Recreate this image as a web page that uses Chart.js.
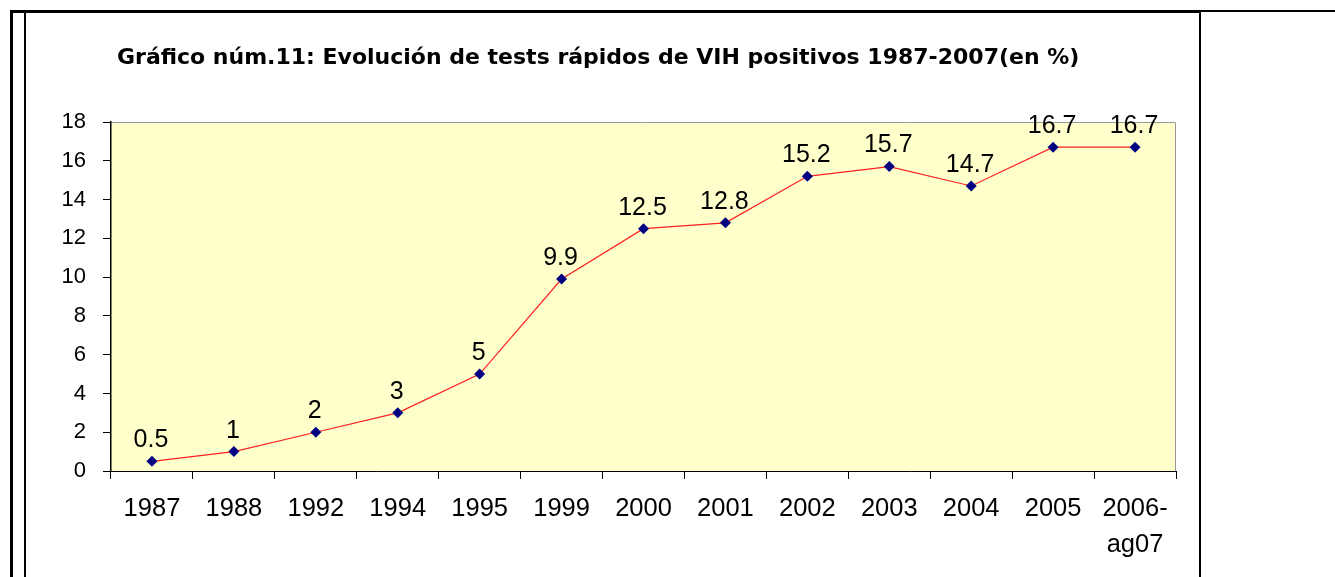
<!DOCTYPE html>
<html>
<head>
<meta charset="utf-8">
<script src="https://cdn.jsdelivr.net/npm/chart.js@4"></script>
<style>
  html, body { margin: 0; padding: 0; background: #fff; }
  #wrap { position: relative; width: 1335px; height: 577px; overflow: hidden; }
  #chart { position: absolute; left: 0; top: 0; }
  .ln { position: absolute; background: #000; }
  #title { position: absolute; left: 117px; top: 44px; font: bold 22px "DejaVu Sans", Verdana, sans-serif; color: #000; white-space: nowrap; }
</style>
</head>
<body>
<div id="wrap">
  <canvas id="chart" width="1335" height="577"></canvas>
  <div class="ln" style="left:10px;top:10px;width:1190px;height:3px"></div>
  <div class="ln" style="left:1200px;top:10px;width:135px;height:2px"></div>
  <div class="ln" style="left:10px;top:10px;width:3px;height:567px"></div>
  <div class="ln" style="left:24px;top:12px;width:2px;height:565px"></div>
  <div class="ln" style="left:1199px;top:10px;width:2px;height:567px"></div>
  <div id="title">Gráfico núm.11: Evolución de tests rápidos de VIH positivos 1987-2007(en %)</div>
</div>
<script>
// categories and values
var years = ['1987', '1988', '1992', '1994', '1995', '1999', '2000', '2001', '2002', '2003', '2004', '2005', ['2006-', 'ag07']];
var positivos = [0.5, 1, 2, 3, 5, 9.9, 12.5, 12.8, 15.2, 15.7, 14.7, 16.7, 16.7];
var yTicks = [0, 2, 4, 6, 8, 10, 12, 14, 16, 18];

var fam = 'Arial, "Liberation Sans", sans-serif';

// yellow plot background + grey top/right border
var plotArea = {
  id: 'plotArea',
  beforeDraw: function(chart) {
    var a = chart.chartArea, c = chart.ctx;
    c.save();
    c.fillStyle = '#FFFFCC';
    c.fillRect(a.left, a.top, a.right - a.left, a.bottom - a.top);
    c.strokeStyle = '#999';
    c.lineWidth = 1;
    c.beginPath();
    c.moveTo(a.left, a.top + 0.5);
    c.lineTo(a.right - 0.5, a.top + 0.5);
    c.lineTo(a.right - 0.5, a.bottom);
    c.stroke();
    c.restore();
  }
};

// value labels above each point
var valueLabels = {
  id: 'valueLabels',
  afterDatasetsDraw: function(chart) {
    var c = chart.ctx;
    var meta = chart.getDatasetMeta(0);
    c.save();
    c.font = '25px ' + fam;
    c.fillStyle = '#000';
    c.textAlign = 'center';
    c.textBaseline = 'middle';
    meta.data.forEach(function(pt, i) {
      c.fillText(String(positivos[i]), pt.x - 1, pt.y - 21);
    });
    c.restore();
  }
};

var ctx = document.getElementById('chart').getContext('2d');
var chart = new Chart(ctx, {
  type: 'line',
  data: {
    labels: years,
    datasets: [{
      data: positivos,
      borderColor: '#FF2020',
      borderWidth: 1.2,
      fill: false,
      tension: 0,
      pointStyle: 'rectRot',
      pointRadius: 5.5,
      pointBackgroundColor: '#000080',
      pointBorderColor: '#000080',
      pointBorderWidth: 0
    }]
  },
  options: {
    responsive: false,
    animation: false,
    layout: { padding: { left: 0, top: 122, right: 159, bottom: 0 } },
    plugins: { legend: { display: false }, tooltip: { enabled: false } },
    scales: {
      x: {
        type: 'category',
        offset: true,
        grid: { offset: true, drawOnChartArea: false, tickLength: 8, color: '#000' },
        border: { color: '#000', width: 1 },
        ticks: { color: '#000', font: { family: fam, size: 25.5, lineHeight: 1.45 }, padding: 11, maxRotation: 0, autoSkip: false },
        afterFit: function(s) { s.height = 106; }
      },
      y: {
        min: 0,
        max: 18,
        afterBuildTicks: function(s) { s.ticks = yTicks.map(function(v) { return { value: v }; }); },
        grid: { drawOnChartArea: false, tickLength: 8, color: '#000' },
        border: { color: '#000', width: 1.5 },
        ticks: { color: '#000', font: { family: fam, size: 22 }, padding: 17 },
        afterFit: function(s) { s.width = 111; }
      }
    }
  },
  plugins: [plotArea, valueLabels]
});
</script>
</body>
</html>
